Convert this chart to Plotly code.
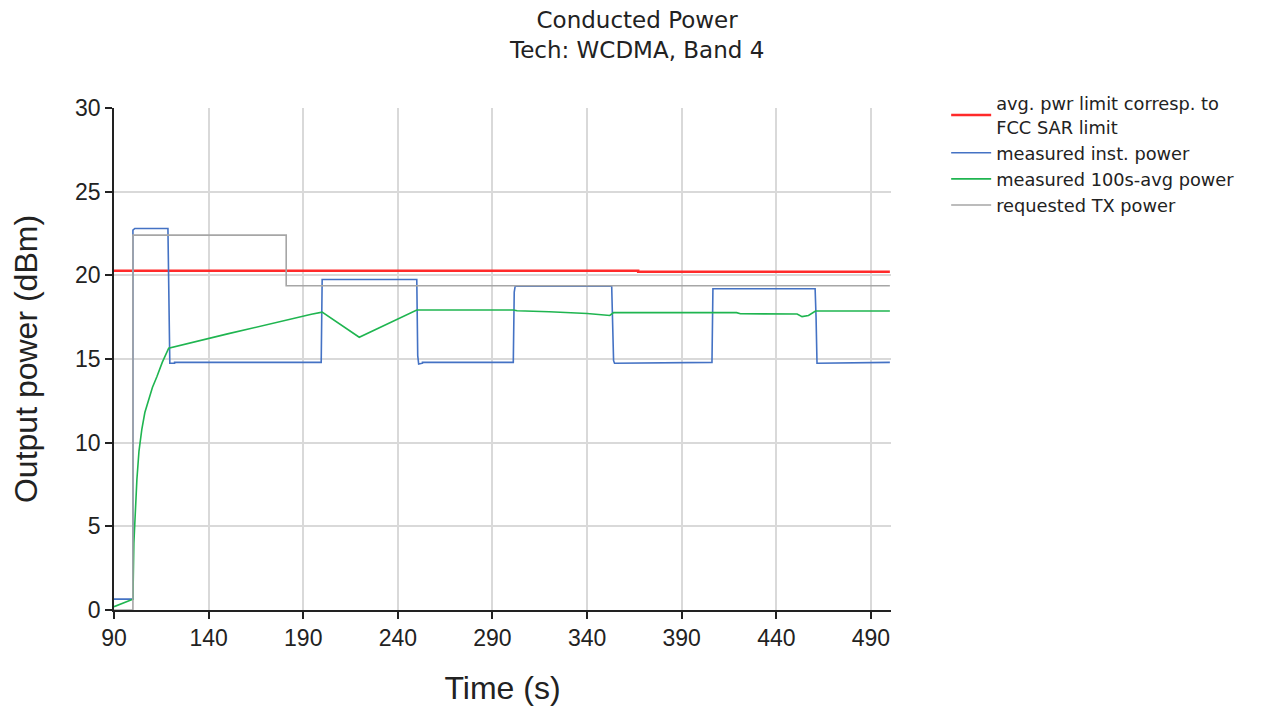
import plotly.graph_objects as go

# --- data ---
limit_t = [90, 367, 367, 500]
limit_v = [20.27, 20.27, 20.22, 20.22]

inst_t = [90, 100, 100, 101, 118.5, 119, 119.5, 122, 122, 199.5, 200, 250, 250.5, 251, 253, 253, 301, 301.5, 302, 353, 353.5, 354, 354.5, 406, 406.5, 460.5, 461, 461.5, 500]
inst_v = [0.65, 0.65, 22.7, 22.8, 22.8, 18.5, 14.75, 14.75, 14.8, 14.8, 19.75, 19.75, 15.2, 14.7, 14.75, 14.8, 14.8, 19.0, 19.35, 19.35, 17.0, 14.9, 14.75, 14.8, 19.2, 19.2, 17.5, 14.75, 14.8]

avg_t = [90, 100, 100.5, 101.2, 102.1, 103.2, 104.7, 106.3, 108.2, 110.3, 112.7, 115.5, 118.9, 150, 194.3, 200, 219.6, 250, 301, 303, 320, 340, 352, 354, 419, 421, 451, 453.6, 457, 460.7, 500]
avg_v = [0.2, 0.65, 4.0, 6.2, 7.8, 9.5, 10.8, 11.8, 12.55, 13.3, 13.95, 14.8, 15.64, 16.5, 17.67, 17.8, 16.3, 17.93, 17.93, 17.88, 17.82, 17.72, 17.6, 17.77, 17.77, 17.7, 17.69, 17.53, 17.6, 17.87, 17.87]

req_t = [90, 100, 100, 181, 181, 500]
req_v = [0.0, 0.0, 22.4, 22.4, 19.38, 19.38]

x_ticks = [90, 140, 190, 240, 290, 340, 390, 440, 490]
y_ticks = [0, 5, 10, 15, 20, 25, 30]

title_text = "Conducted Power<br>Tech: WCDMA, Band 4"

fig = go.Figure()
fig.add_trace(go.Scatter(x=limit_t, y=limit_v, mode="lines", name="avg. pwr limit corresp. to<br>FCC SAR limit",
                         line=dict(color="#ff2a2a", width=2.5)))
fig.add_trace(go.Scatter(x=inst_t, y=inst_v, mode="lines", name="measured inst. power",
                         line=dict(color="#4472c4", width=1.6)))
fig.add_trace(go.Scatter(x=avg_t, y=avg_v, mode="lines", name="measured 100s-avg power",
                         line=dict(color="#1fb550", width=1.6)))
fig.add_trace(go.Scatter(x=req_t, y=req_v, mode="lines", name="requested TX power",
                         line=dict(color="#a6a6a6", width=1.6)))

fig.add_annotation(text=title_text, xref="paper", yref="paper", x=0.672, y=1.145,
                   xanchor="center", yanchor="middle", align="center", showarrow=False,
                   font=dict(family="DejaVu Sans", size=23, color="#222222"))

fig.update_layout(
    width=1263, height=709,
    paper_bgcolor="white", plot_bgcolor="white",
    margin=dict(l=106, r=380, t=100, b=107),
    legend=dict(x=1.071, y=1.045, xanchor="left", yanchor="top",
                font=dict(family="DejaVu Sans", size=17.8, color="#222222"),
                tracegroupgap=0, itemwidth=40, bgcolor="rgba(0,0,0,0)"),
    font=dict(family="Liberation Sans", color="#222222"),
)
fig.update_xaxes(range=[90, 500.6], tickvals=x_ticks, ticks="outside", ticklen=7, tickwidth=1.5,
                 tickcolor="#222222", showline=True, linecolor="#222222", linewidth=1.5,
                 showgrid=True, gridcolor="#d9d9d9", gridwidth=1.5, zeroline=False,
                 tickfont=dict(family="Liberation Sans", size=23, color="#222222"),
                 title=dict(text="Time (s)", font=dict(family="Liberation Sans", size=32, color="#222222"),
                            standoff=26))
fig.update_yaxes(range=[0, 30], tickvals=y_ticks, ticks="outside", ticklen=7, tickwidth=1.5,
                 tickcolor="#222222", showline=True, linecolor="#222222", linewidth=1.5,
                 showgrid=True, gridcolor="#d9d9d9", gridwidth=1.5, zeroline=False,
                 tickfont=dict(family="Liberation Sans", size=23, color="#222222"),
                 title=dict(text="Output power (dBm)", font=dict(family="Liberation Sans", size=32, color="#222222"),
                            standoff=31))

fig.write_html("out.html")
